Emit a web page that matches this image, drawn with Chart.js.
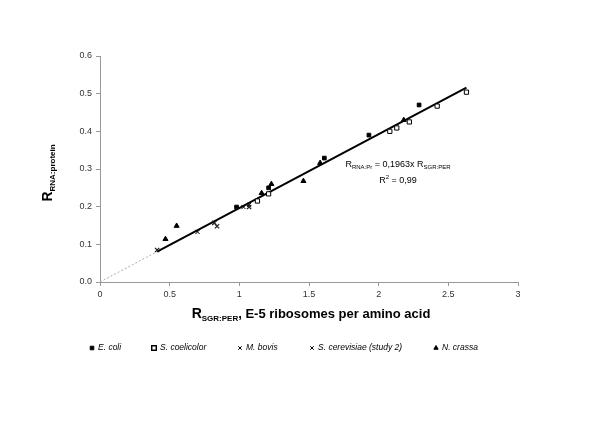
<!DOCTYPE html>
<html>
<head>
<meta charset="utf-8">
<script src="https://cdn.jsdelivr.net/npm/chart.js@4.4.0/dist/chart.umd.min.js"></script>
<style>
  body { margin: 0; background: #fff; }
  #wrap { width: 600px; height: 424px; }
</style>
</head>
<body>
<div id="wrap"><canvas id="myChart" width="600" height="424"></canvas></div>
<script>
// species data
const species = ['E. coli', 'S. coelicolor', 'M. bovis', 'S. cerevisiae (study 2)', 'N. crassa'];
const eColiX = [0.98, 1.21, 1.61, 1.93, 2.29];
const eColiY = [0.199, 0.250, 0.329, 0.390, 0.470];
const coelicolorX = [1.13, 1.21, 2.08, 2.13, 2.22, 2.42, 2.63];
const coelicolorY = [0.215, 0.234, 0.400, 0.409, 0.425, 0.467, 0.504];
const bovisX = [0.70, 1.03, 1.07];
const bovisY = [0.133, 0.199, 0.205];
const cerevisiaeX = [0.41, 0.82, 0.84, 1.07];
const cerevisiaeY = [0.085, 0.157, 0.148, 0.199];
const crassaX = [0.47, 0.55, 1.16, 1.23, 1.46, 1.58, 2.18];
const crassaY = [0.114, 0.149, 0.236, 0.260, 0.268, 0.316, 0.430];

const slope = 0.1963;
const fitStart = 0.41, fitEnd = 2.63;

const xTicks = [0, 0.5, 1, 1.5, 2, 2.5, 3];
const yTicks = [0, 0.1, 0.2, 0.3, 0.4, 0.5, 0.6];

function pts(xs, ys) {
    return xs.map((x, i) => ({ x: x, y: ys[i] }));
}

const FONT = '"Liberation Sans", Arial, sans-serif';

// draws text with subscript / superscript pieces
function drawParts(c, parts, x, y, align) {
    let total = 0;
    parts.forEach(p => { c.font = p.font; total += c.measureText(p.t).width; });
    let cx = align === 'center' ? x - total / 2 : x;
    c.textAlign = 'left';
    c.textBaseline = 'alphabetic';
    parts.forEach(p => {
        c.font = p.font;
        c.fillText(p.t, cx, y + (p.dy || 0));
        cx += c.measureText(p.t).width;
    });
}

const extras = {
    id: 'extras',
    afterDraw(chart) {
        const c = chart.ctx;
        c.save();
        c.fillStyle = '#000';

        // x axis title
        drawParts(c, [
            { t: 'R', font: 'bold 14px ' + FONT },
            { t: 'SGR:PER', font: 'bold 8px ' + FONT, dy: 3 },
            { t: ', E-5 ribosomes per amino acid', font: 'bold 13px ' + FONT }
        ], 311, 318, 'center');

        // y axis title
        c.save();
        c.translate(52, 173);
        c.rotate(-Math.PI / 2);
        drawParts(c, [
            { t: 'R', font: 'bold 14px ' + FONT },
            { t: 'RNA:protein', font: 'bold 8px ' + FONT, dy: 3 }
        ], 0, 0, 'center');
        c.restore();

        // regression text
        drawParts(c, [
            { t: 'R', font: '9px ' + FONT },
            { t: 'RNA:Pr', font: '6px ' + FONT, dy: 2 },
            { t: ' = 0,1963x R', font: '9px ' + FONT },
            { t: 'SGR:PER', font: '6px ' + FONT, dy: 2 }
        ], 398, 167, 'center');
        drawParts(c, [
            { t: 'R', font: '9px ' + FONT },
            { t: '2', font: '6px ' + FONT, dy: -4 },
            { t: ' = 0,99', font: '9px ' + FONT }
        ], 398, 183, 'center');

        // legend
        const legX = [92, 154, 240, 312, 436];
        const ly = 348;
        chart.data.datasets.slice(0, 5).forEach((ds, i) => {
            c.fillStyle = '#000';
            c.strokeStyle = '#000';
            c.lineWidth = 1;
            Chart.helpers.drawPoint(c, {
                pointStyle: ds.pointStyle,
                radius: 2.5,
                borderWidth: 1,
                rotation: 0
            }, legX[i], ly);
            if (ds.backgroundColor === '#fff') {
                c.fillStyle = '#fff';
                c.fillRect(legX[i] - 1.5, ly - 1.5, 3, 3);
                c.strokeRect(legX[i] - 2.5, ly - 2.5, 5, 5);
            }
            c.fillStyle = '#000';
            c.font = 'italic 8.5px ' + FONT;
            c.textBaseline = 'middle';
            c.textAlign = 'left';
            c.fillText(species[i], legX[i] + 6, ly);
        });
        c.restore();
    }
};

const ctx = document.getElementById('myChart').getContext('2d');

const myChart = new Chart(ctx, {
    type: 'scatter',
    data: {
        datasets: [
            { label: species[0], data: pts(eColiX, eColiY), pointStyle: 'rect', pointRadius: 2.6, backgroundColor: '#000', borderColor: '#000', borderWidth: 1 },
            { label: species[1], data: pts(coelicolorX, coelicolorY), pointStyle: 'rect', pointRadius: 3, backgroundColor: '#fff', borderColor: '#000', borderWidth: 1 },
            { label: species[2], data: pts(bovisX, bovisY), pointStyle: 'crossRot', pointRadius: 3, backgroundColor: '#000', borderColor: '#000', borderWidth: 1 },
            { label: species[3], data: pts(cerevisiaeX, cerevisiaeY), pointStyle: 'crossRot', pointRadius: 3, backgroundColor: '#000', borderColor: '#222', borderWidth: 1.3 },
            { label: species[4], data: pts(crassaX, crassaY), pointStyle: 'triangle', pointRadius: 2.9, backgroundColor: '#000', borderColor: '#000', borderWidth: 1 },
            {
                type: 'line', label: 'fit',
                data: [{ x: fitStart, y: slope * fitStart }, { x: fitEnd, y: slope * fitEnd }],
                borderColor: '#000', borderWidth: 2, pointRadius: 0, fill: false
            },
            {
                type: 'line', label: 'extrapolation',
                data: [{ x: 0, y: 0 }, { x: fitStart, y: slope * fitStart }],
                borderColor: '#aaa', borderWidth: 1, borderDash: [2, 2], pointRadius: 0, fill: false
            }
        ]
    },
    options: {
        responsive: false,
        animation: false,
        layout: { padding: { left: 60, right: 82, top: 56, bottom: 112 } },
        plugins: {
            legend: { display: false },
            tooltip: { enabled: false }
        },
        scales: {
            x: {
                type: 'linear', min: 0, max: 3,
                afterBuildTicks: s => { s.ticks = xTicks.map(v => ({ value: v })); },
                afterFit: s => { s.height = 30; },
                grid: { drawOnChartArea: false, drawTicks: true, tickLength: 4, color: '#999' },
                border: { color: '#999' },
                ticks: { color: '#333', font: { size: 9, family: FONT }, padding: 3, maxRotation: 0, callback: v => String(v) }
            },
            y: {
                type: 'linear', min: 0, max: 0.6,
                afterBuildTicks: s => { s.ticks = yTicks.map(v => ({ value: v })); },
                afterFit: s => { s.width = 40; },
                grid: { drawOnChartArea: false, drawTicks: true, tickLength: 4, color: '#999' },
                border: { color: '#999' },
                ticks: { color: '#333', font: { size: 9, family: FONT }, padding: 4, callback: v => v.toFixed(1) }
            }
        }
    },
    plugins: [extras]
});
</script>
</body>
</html>
